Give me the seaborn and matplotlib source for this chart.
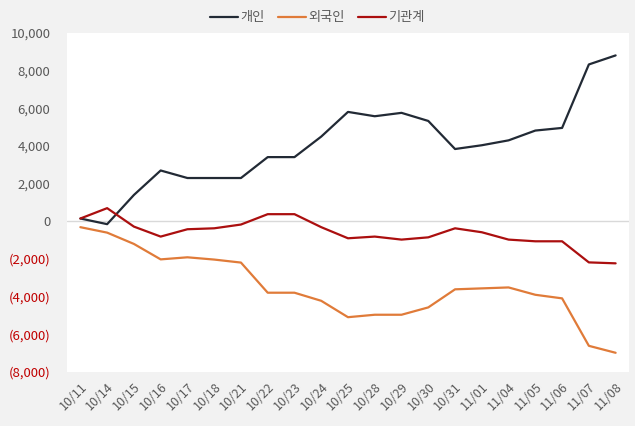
import matplotlib
matplotlib.use("Agg")
import matplotlib.pyplot as plt
import matplotlib.ticker as mticker
import seaborn as sns
import pandas as pd

dates = ["10/11", "10/14", "10/15", "10/16", "10/17", "10/18", "10/21", "10/22",
         "10/23", "10/24", "10/25", "10/28", "10/29", "10/30", "10/31", "11/01",
         "11/04", "11/05", "11/06", "11/07", "11/08"]
individual = [150, -150, 1400, 2700, 2300, 2300, 2300, 3410, 3410, 4500, 5810,
              5580, 5760, 5330, 3840, 4040, 4300, 4820, 4960, 8330, 8810]
foreign = [-310, -600, -1200, -2020, -1910, -2030, -2190, -3790, -3790, -4220,
           -5090, -4960, -4960, -4570, -3610, -3560, -3510, -3900, -4090, -6610, -6980]
institution = [150, 700, -280, -810, -420, -370, -170, 380, 380, -310, -900,
               -810, -970, -850, -370, -580, -970, -1060, -1060, -2180, -2230]
series_names = ["개인", "외국인", "기관계"]
colors = ["#222a35", "#e07b39", "#ab0f0f"]

sns.set_theme(style="white")
plt.rcParams["font.family"] = ["Noto Sans CJK KR", "DejaVu Sans"]

df = pd.DataFrame({
    "date": dates * 3,
    "value": individual + foreign + institution,
    "series": [series_names[0]] * len(dates) + [series_names[1]] * len(dates) + [series_names[2]] * len(dates),
})
df["x"] = list(range(len(dates))) * 3

fig = plt.figure(figsize=(6.35, 4.26), dpi=100, facecolor="#f2f2f2")
ax = fig.add_axes([67 / 635, 1 - 372 / 426, 562 / 635, 339 / 426])
ax.set_facecolor("white")

sns.lineplot(data=df, x="x", y="value", hue="series", hue_order=series_names,
             palette=colors, linewidth=1.6, ax=ax, legend=True)

ax.axhline(0, color="#d9d9d9", linewidth=1, zorder=0)
ax.set_xlim(-0.5, len(dates) - 0.5)
ax.set_ylim(-8000, 10000)
ax.yaxis.set_major_locator(mticker.MultipleLocator(2000))

def fmt(v, pos):
    v = int(round(v))
    if v < 0:
        return "({:,})".format(-v)
    return "{:,}".format(v)

ax.yaxis.set_major_formatter(mticker.FuncFormatter(fmt))
ax.set_xticks(range(len(dates)))
ax.set_xticklabels(dates, rotation=45, ha="right", rotation_mode="anchor")
ax.tick_params(axis="both", length=0, colors="#595959")
ax.tick_params(axis="y", pad=12, labelsize=9.5)
ax.tick_params(axis="x", pad=6, labelsize=9)
for lbl, v in zip(ax.get_yticklabels(), ax.get_yticks()):
    if v < 0:
        lbl.set_color("#c00000")

for s in ax.spines.values():
    s.set_visible(False)
ax.set_xlabel("")
ax.set_ylabel("")

handles, labels = ax.get_legend_handles_labels()
ax.legend_.remove()
leg = fig.legend(handles, labels, loc="center", bbox_to_anchor=(0.5, 1 - 18 / 426),
                 ncol=3, frameon=False, fontsize=9.5, handlelength=2.1,
                 handletextpad=0.2, columnspacing=1.0)
for t in leg.get_texts():
    t.set_color("#595959")

fig.savefig("out.png", dpi=100, facecolor=fig.get_facecolor())
